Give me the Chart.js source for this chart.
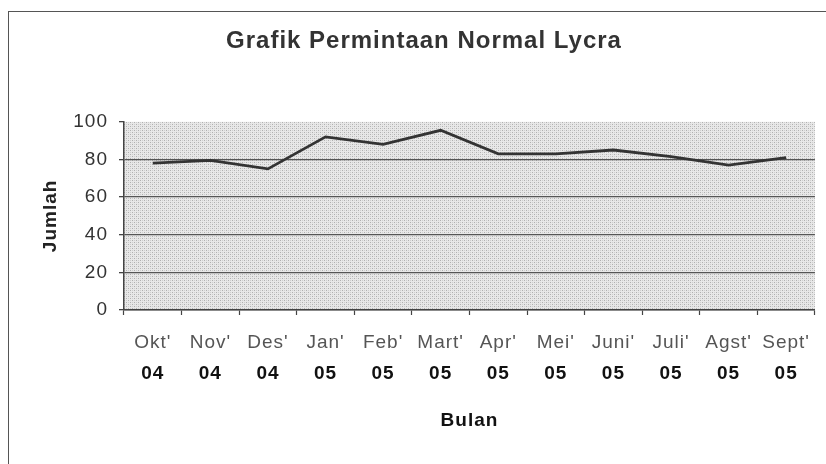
<!DOCTYPE html>
<html>
<head>
<meta charset="utf-8">
<script src="https://cdn.jsdelivr.net/npm/chart.js@4/dist/chart.umd.min.js"></script>
<style>
html,body{margin:0;padding:0;background:#fff;}
#wrap{position:relative;width:826px;height:464px;}
#frame{position:absolute;left:8px;top:11px;width:830px;height:470px;border-left:1.5px solid #555;border-top:1.5px solid #555;}
canvas{position:absolute;left:0;top:0;}
</style>
</head>
<body>
<div id="wrap">
<div id="frame"></div>
<canvas id="c" width="826" height="464"></canvas>
</div>
<script>
const months = ["Okt'", "Nov'", "Des'", "Jan'", "Feb'", "Mart'", "Apr'", "Mei'", "Juni'", "Juli'", "Agst'", "Sept'"];
const years = ["04", "04", "04", "05", "05", "05", "05", "05", "05", "05", "05", "05"];
const jumlah = [78, 79.5, 75, 92, 88, 95.5, 83, 83, 85, 81.5, 77, 81];
const yTicks = [0, 20, 40, 60, 80, 100];

function makePattern() {
  const p = document.createElement('canvas');
  p.width = 4; p.height = 4;
  const g = p.getContext('2d');
  g.fillStyle = '#e8e8e8';
  g.fillRect(0, 0, 4, 4);
  g.fillStyle = '#b0b0b0';
  g.fillRect(0, 0, 1, 1);
  g.fillRect(2, 2, 1, 1);
  g.fillStyle = '#cfcfcf';
  g.fillRect(2, 0, 1, 1);
  g.fillRect(0, 2, 1, 1);
  return p;
}

const spacingPlugin = {
  id: 'spacing',
  beforeUpdate(chart) { chart.ctx.letterSpacing = '1px'; },
  beforeLayout(chart) { chart.ctx.letterSpacing = '1px'; },
  beforeDraw(chart) { chart.ctx.letterSpacing = '1px'; }
};

const bgPlugin = {
  id: 'plotBg',
  beforeDraw(chart) {
    const a = chart.chartArea, ctx = chart.ctx;
    ctx.save();
    ctx.fillStyle = ctx.createPattern(makePattern(), 'repeat');
    ctx.fillRect(a.left, a.top, a.right - a.left, a.bottom - a.top);
    ctx.restore();
  }
};

const ctx = document.getElementById('c').getContext('2d');
ctx.letterSpacing = '1px';
new Chart(ctx, {
  type: 'line',
  data: {
    labels: months,
    datasets: [{
      data: jumlah,
      borderColor: '#333333',
      borderWidth: 2.8,
      pointRadius: 0,
      tension: 0,
      fill: false
    }]
  },
  options: {
    responsive: false,
    animation: false,
    layout: { padding: { left: 22, right: 0, top: 0, bottom: 32 } },
    plugins: {
      legend: { display: false },
      tooltip: { enabled: false },
      title: {
        display: true,
        text: 'Grafik Permintaan Normal Lycra',
        color: '#333',
        font: { family: 'Liberation Sans', size: 24, weight: 'bold' },
        padding: { top: 27, bottom: 66 }
      }
    },
    scales: {
      x: {
        type: 'category',
        position: 'bottom',
        offset: true,
        afterFit(scale) { scale.height = 48; },
        grid: { offset: true, drawOnChartArea: false, tickLength: 5, color: '#444', tickWidth: 1.2 },
        border: { display: true, color: '#444', width: 1.5 },
        ticks: { color: '#555', padding: 16, autoSkip: false, maxRotation: 0, font: { family: 'Liberation Sans', size: 19 } }
      },
      x2: {
        type: 'category',
        position: 'bottom',
        labels: years,
        offset: true,
        afterFit(scale) { scale.height = 74; },
        grid: { display: false, drawTicks: false, tickLength: 0 },
        border: { display: false },
        ticks: { color: '#111', padding: 4, autoSkip: false, maxRotation: 0, font: { family: 'Liberation Sans', size: 19, weight: 'bold' } },
        title: { display: true, text: 'Bulan', color: '#111', padding: { top: 20, bottom: 0 }, font: { family: 'Liberation Sans', size: 19, weight: 'bold' } }
      },
      y: {
        min: 0,
        max: 100,
        afterBuildTicks(scale) { scale.ticks = yTicks.map(v => ({ value: v })); },
        afterFit(scale) { scale.width = 102; },
        grid: {
          color: (c) => (c.tick && c.tick.value === 100) ? 'rgba(0,0,0,0)' : '#555',
          lineWidth: 1.3,
          tickLength: 5,
          tickColor: '#444'
        },
        border: { display: true, color: '#444', width: 1.5 },
        ticks: { color: '#333', padding: 11, font: { family: 'Liberation Sans', size: 19 } },
        title: { display: true, text: 'Jumlah', color: '#222', padding: { top: 17, bottom: 0 }, font: { family: 'Liberation Sans', size: 19, weight: 'bold' } }
      }
    }
  },
  plugins: [spacingPlugin, bgPlugin]
});
</script>
</body>
</html>
